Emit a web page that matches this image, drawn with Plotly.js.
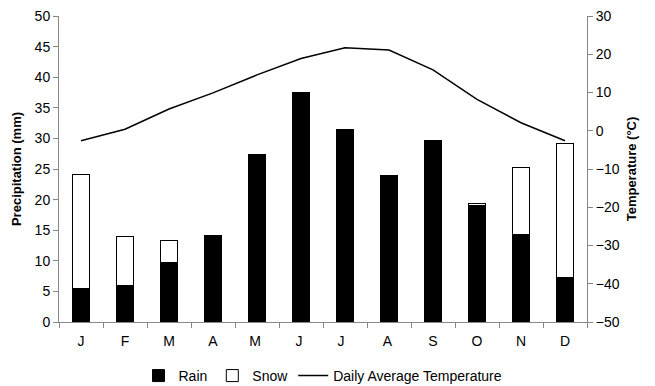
<!DOCTYPE html>
<html>
<head>
<meta charset="utf-8">
<script src="https://cdn.plot.ly/plotly-3.0.1.min.js"></script>
<style>html,body{margin:0;padding:0;background:#fff;}#chart{width:655px;height:386px;}</style>
</head>
<body>
<div id="chart"></div>
<script>
const months = ["J","F","M","A","M ","J ","J  ","A ","S","O","N","D"];
const rain = [5.4, 6.0, 9.8, 14.0, 27.4, 37.5, 31.5, 23.9, 29.6, 19.0, 14.3, 7.2];
const snow = [18.7, 8.0, 3.5, 0.2, 0, 0, 0, 0, 0, 0.3, 10.9, 21.9];
const temperature = [-2.6, 0.4, 5.7, 9.9, 14.6, 18.9, 21.7, 21.1, 15.9, 8.2, 2.1, -2.6];

const fontFam = '"Liberation Sans Narrow", "Arial Narrow", "Liberation Sans", Arial, sans-serif';

const traces = [
  {type:'bar', name:'Rain', x:months, y:rain, marker:{color:'#000', line:{color:'#000', width:1}}},
  {type:'bar', name:'Snow', x:months, y:snow, marker:{color:'#fff', line:{color:'#000', width:1}}},
  {type:'scatter', mode:'lines', name:'Daily Average Temperature', x:months, y:temperature, yaxis:'y2', line:{color:'#000', width:1.5}}
];

const layout = {
  width:655, height:386,
  margin:{l:59, r:68, t:16, b:64},
  barmode:'stack', bargap:0.6,
  paper_bgcolor:'#fff', plot_bgcolor:'#fff',
  font:{family:fontFam, size:13, color:'#000'},
  showlegend:true,
  legend:{orientation:'h', x:0.5, xref:'paper', xanchor:'center', yref:'container', y:0.026, yanchor:'middle', font:{size:14}, traceorder:'normal'},
  xaxis:{type:'category', showline:true, linecolor:'#888', linewidth:1, ticks:'outside', tickson:'boundaries', ticklen:5, tickcolor:'#888', showgrid:false, zeroline:false, tickfont:{size:14}, ticklabelstandoff:6},
  yaxis:{range:[0,50], dtick:5, showline:true, linecolor:'#888', linewidth:1, ticks:'outside', ticklen:5, tickcolor:'#888', showgrid:false, zeroline:false, tickfont:{size:14},
    title:{text:'<b>Precipitation (mm)</b>', font:{size:13}, standoff:10}},
  yaxis2:{range:[-50,30], dtick:10, overlaying:'y', side:'right', showline:true, linecolor:'#888', linewidth:1, ticks:'outside', ticklen:5, tickcolor:'#888', showgrid:false, zeroline:false, tickfont:{size:14},
    title:{text:'<b>Temperature (°C)</b>', font:{size:13}, standoff:8}}
};

Plotly.newPlot('chart', traces, layout, {displayModeBar:false, staticPlot:true});
</script>
</body>
</html>
